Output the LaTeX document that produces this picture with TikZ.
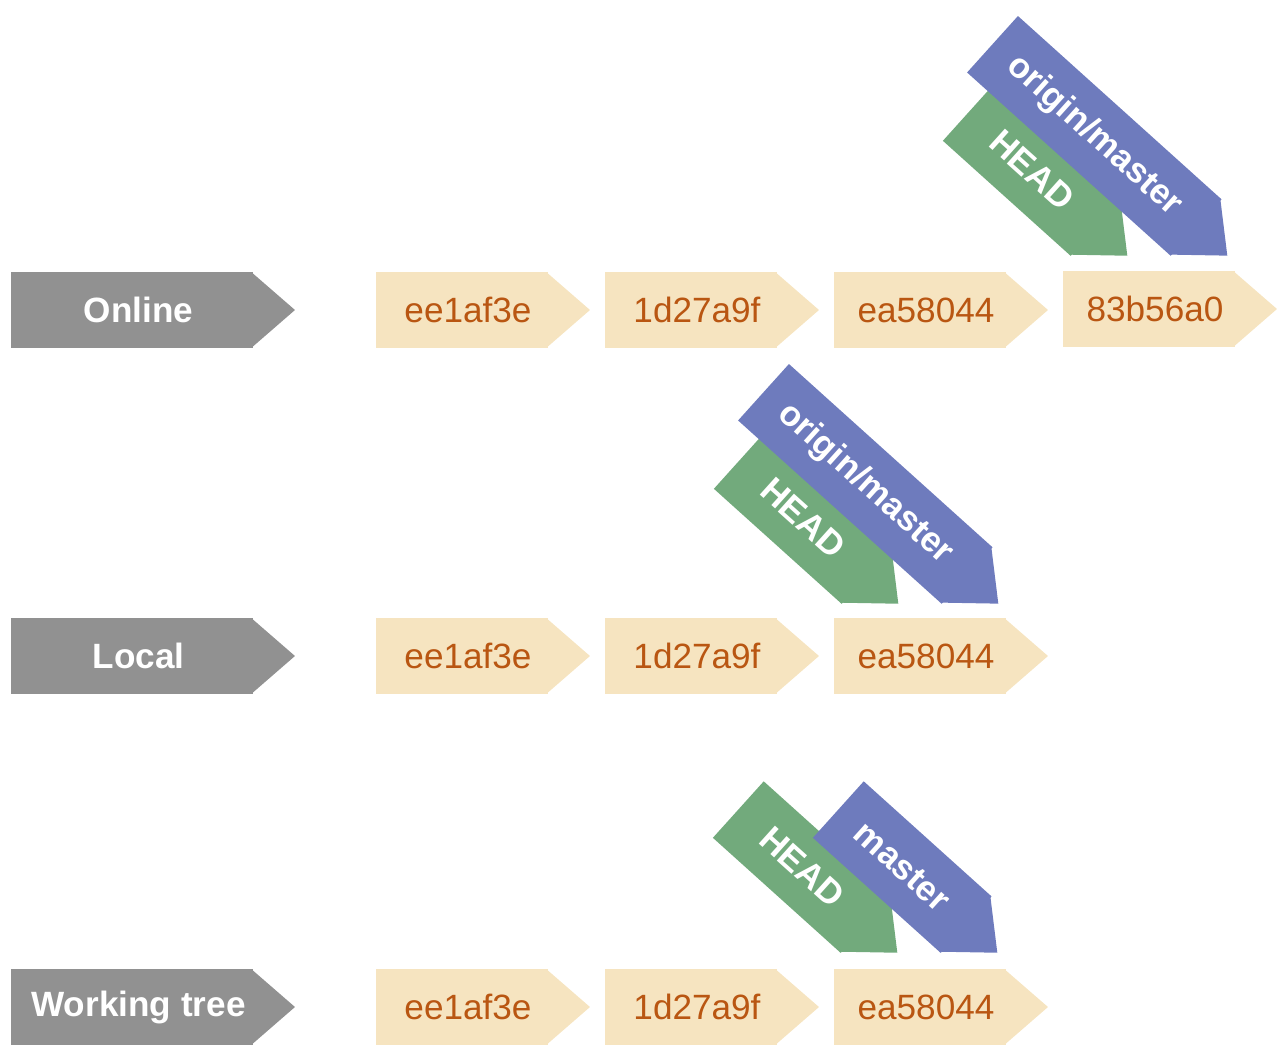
\documentclass[tikz,border=0pt]{standalone}
\usepackage{fontspec}
\setmainfont{Liberation Sans}
\usetikzlibrary{calc}

\definecolor{rowgray}{RGB}{145,145,145}
\definecolor{commitfill}{RGB}{246,228,192}
\definecolor{committext}{RGB}{185,86,18}
\definecolor{headgreen}{RGB}{114,170,124}
\definecolor{branchblue}{RGB}{110,123,189}

% pointed end of a box, drawn right after its node
\newcommand{\tagtip}[2]{\fill[#2] ($(#1.north east)!1pt!(#1.north west)$) -- ($(#1.east)!0.84cm!-90:(#1.north east)$) -- ($(#1.south east)!1pt!(#1.south west)$) -- cycle;}

\begin{document}
\begin{tikzpicture}[
    x=0.02cm, y=-0.02cm,
    rowname/.style={fill=rowgray, text=white, font=\bfseries\fontsize{20}{24}\selectfont, minimum width=4.84cm, minimum height=1.52cm, inner sep=0pt, outer sep=0pt, execute at begin node=\hspace*{0.26cm}},
    commit/.style={fill=commitfill, text=committext, font=\fontsize{20}{24}\selectfont, minimum width=3.44cm, minimum height=1.52cm, inner sep=0pt, outer sep=0pt, execute at begin node=\hspace*{0.24cm}},
    head/.style={fill=headgreen, text=white, font=\bfseries\fontsize{20}{24}\selectfont, minimum width=3.44cm, minimum height=1.52cm, inner sep=0pt, outer sep=0pt, rotate=-42},
    branch/.style={head, fill=branchblue}
]
\useasboundingbox (0,0) rectangle (1287,1060);

% row names
\node[rowname] (on) at (132,310) {Online};
\node[rowname] (lo) at (132,656) {Local};
\node[rowname] (wt) at (132,1007) {Working tree};

% commits
\node[commit] (o1) at (462,310) {ee1af3e};
\node[commit] (o2) at (691,310) {1d27a9f};
\node[commit] (o3) at (920,310) {ea58044};
\node[commit] (o4) at (1149,309) {83b56a0};

\node[commit] (l1) at (462,656) {ee1af3e};
\node[commit] (l2) at (691,656) {1d27a9f};
\node[commit] (l3) at (920,656) {ea58044};

\node[commit] (w1) at (462,1007) {ee1af3e};
\node[commit] (w2) at (691,1007) {1d27a9f};
\node[commit] (w3) at (920,1007) {ea58044};

\foreach \n in {on,lo,wt} {\tagtip{\n}{rowgray}}
\foreach \n in {o1,o2,o3,o4,l1,l2,l3,w1,w2,w3} {\tagtip{\n}{commitfill}}

% refs
\node[head] (ohead) at (1032.2,170.1) {HEAD};
\tagtip{ohead}{headgreen}
\node[branch, minimum width=5.48cm] (oorigin) at (1094.3,135.9) {origin/master};
\tagtip{oorigin}{branchblue}

\node[head] (lhead) at (803.2,518.1) {HEAD};
\tagtip{lhead}{headgreen}
\node[branch, minimum width=5.48cm] (lorigin) at (865.3,483.9) {origin/master};
\tagtip{lorigin}{branchblue}

\node[head] (whead) at (802.2,867.1) {HEAD};
\tagtip{whead}{headgreen}
\node[branch] (wmaster) at (902.2,867.1) {master};
\tagtip{wmaster}{branchblue}
\end{tikzpicture}
\end{document}
